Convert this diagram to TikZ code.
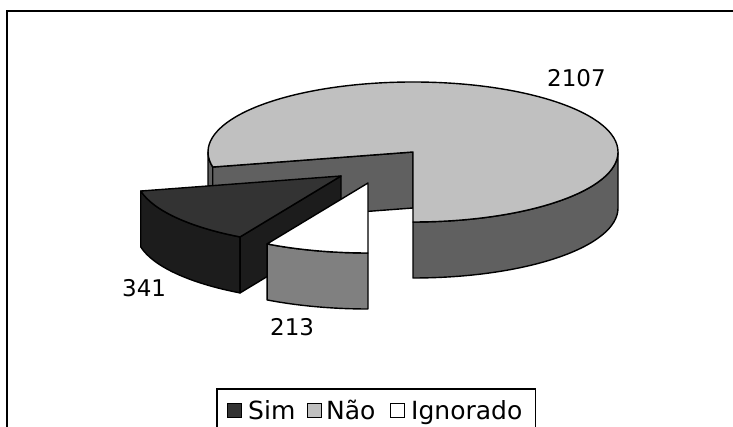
\documentclass[tikz,border=0pt]{standalone}
\usepackage{fontspec}
\setmainfont{DejaVu Sans}
\usetikzlibrary{calc}
\definecolor{simTop}{HTML}{333333}
\definecolor{simSide}{HTML}{1C1C1C}
\definecolor{naoTop}{HTML}{C0C0C0}
\definecolor{naoSide}{HTML}{606060}
\definecolor{ignSide}{HTML}{808080}
\tikzset{face/.style = {draw=black, line width=1.4pt, line join=round},
         ell/.style = {x radius=205, y radius=70},
         value/.style = {anchor=base west, inner sep=0pt, font=\fontsize{23}{27}\selectfont},
         legkey/.style = {draw=black, line width=0.9pt, minimum size=14pt, inner sep=0pt},
         legtxt/.style = {anchor=base west, inner sep=0pt, font=\fontsize{25}{30}\selectfont}}
\begin{document}
\begin{tikzpicture}[x=1pt,y=1pt]
    \useasboundingbox (0,0) rectangle (733,427);
    \clip (0,0) rectangle (733,427);
    \draw[line width=2pt] (6.5,-10) -- (6.5,415.5) -- (745,415.5);

    % Nao
    \coordinate (nao) at (413,275);
    \path[face, fill=naoSide] (nao) ++(270:205 and 70) arc[start angle=270, end angle=360, ell]
        -- ++(0,-56) arc[start angle=360, end angle=270, ell] -- cycle;
    \path[face, fill=naoSide] (nao) ++(180:205 and 70) arc[start angle=180, end angle=192.4, ell]
        -- ++(0,-56) arc[start angle=192.4, end angle=180, ell] -- cycle;
    \path[face, fill=naoSide] (nao) -- ++(192.4:205 and 70) -- ++(0,-56) -- ($(nao)+(0,-56)$) -- cycle;
    \path[face, fill=naoTop] (nao) -- ++(270:205 and 70) arc[start angle=270, end angle=552.4, ell] -- cycle;

    % Sim
    \coordinate (sim) at (341,251);
    \path[face, fill=simSide] (sim) ++(192.4:205 and 70) arc[start angle=192.4, end angle=240.5, ell]
        -- ++(0,-56) arc[start angle=240.5, end angle=192.4, ell] -- cycle;
    \path[face, fill=simSide] (sim) -- ++(240.5:205 and 70) -- ++(0,-56) -- ($(sim)+(0,-56)$) -- cycle;
    \path[face, fill=simTop] (sim) -- ++(192.4:205 and 70) arc[start angle=192.4, end angle=240.5, ell] -- cycle;

    % Ignorado
    \coordinate (ign) at (368,244);
    \path[face, fill=ignSide] (ign) ++(240.5:205 and 70) arc[start angle=240.5, end angle=270, ell]
        -- ++(0,-56) arc[start angle=270, end angle=240.5, ell] -- cycle;
    \path[face, fill=white] (ign) -- ++(240.5:205 and 70) arc[start angle=240.5, end angle=270, ell] -- cycle;

    \node[value] (vnao) at (547,340) {2107};
    \node[value] (vsim) at (122,130) {341};
    \node[value] (vign) at (270,91) {213};

    % legend
    \draw[line width=1.1pt, fill=white] (217,-10) rectangle (535.7,38);
    \node[legkey, fill=simTop] (ksim) at (234.5,16.5) {};
    \node[legtxt] (tsim) at (248,7) {Sim};
    \node[legkey, fill=naoTop] (knao) at (314,16.5) {};
    \node[legtxt] (tnao) at (326,7) {Não};
    \node[legkey, fill=white] (kign) at (397,16.5) {};
    \node[legtxt] (tign) at (411,7) {Ignorado};
\end{tikzpicture}
\end{document}
